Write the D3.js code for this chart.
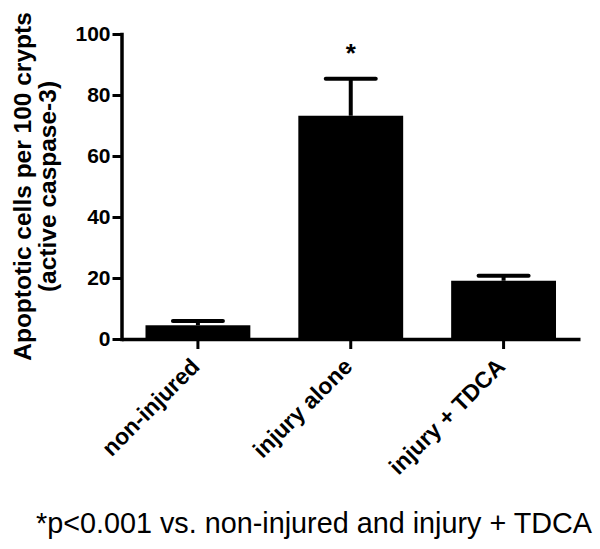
<!DOCTYPE html>
<html><head><meta charset="utf-8">
<script src="https://cdn.jsdelivr.net/npm/d3@7"></script>
<style>body{margin:0;background:#fff}svg{display:block}</style>
</head><body><svg id="c" width="600" height="549"></svg>
<script>
const categories = ["non-injured", "injury alone", "injury + TDCA"];
const means = [4.5, 73.2, 19.1];
const errors = [1.4, 12.1, 1.6];
const yTicks = [0, 20, 40, 60, 80, 100];
const significance = ["", "*", ""];
const yTitle = ["Apoptotic cells per 100 crypts", "(active caspase-3)"];
const footnote = "*p<0.001 vs. non-injured and injury + TDCA";

const data = categories.map((c, i) => ({c, m: means[i], e: errors[i], s: significance[i]}));
const svg = d3.select("#c");
const FONT = "'Liberation Sans', Arial, sans-serif";
const L = 121.5, R = 580, T = 34, B = 339;

const x = d3.scaleBand().domain(categories).range([L, R]).paddingInner(0.314).paddingOuter(0.157);
const y = d3.scaleLinear().domain([0, 100]).range([B, T]);

// bars
svg.append("g").selectAll("rect").data(data).join("rect")
  .attr("x", d => x(d.c)).attr("width", x.bandwidth())
  .attr("y", d => y(d.m)).attr("height", d => y(0) - y(d.m))
  .attr("fill", "#000");

// error bars (upper only)
const eb = svg.append("g").attr("stroke", "#000").attr("stroke-width", 4);
eb.selectAll("line.v").data(data).join("line").attr("class", "v")
  .attr("x1", d => x(d.c) + x.bandwidth() / 2).attr("x2", d => x(d.c) + x.bandwidth() / 2)
  .attr("y1", d => y(d.m)).attr("y2", d => y(d.m + d.e));
eb.selectAll("line.h").data(data).join("line").attr("class", "h")
  .attr("stroke-linecap", "round")
  .attr("x1", d => x(d.c) + x.bandwidth() / 2 - 25).attr("x2", d => x(d.c) + x.bandwidth() / 2 + 25)
  .attr("y1", d => y(d.m + d.e)).attr("y2", d => y(d.m + d.e));

// significance marks
svg.append("g").selectAll("text").data(data).join("text")
  .attr("x", d => x(d.c) + x.bandwidth() / 2).attr("y", 62)
  .attr("text-anchor", "middle").attr("font-family", FONT).attr("font-weight", "bold")
  .attr("font-size", 26).text(d => d.s);

// y axis
const ya = svg.append("g").attr("transform", `translate(${L},0)`)
  .call(d3.axisLeft(y).tickValues(yTicks).tickSize(9).tickSizeOuter(0).tickPadding(2));
ya.select(".domain").attr("stroke-width", 3.5).attr("stroke-linecap", "square");
ya.selectAll(".tick line").attr("stroke-width", 3);
ya.selectAll(".tick text").attr("font-family", FONT).attr("font-weight", "bold")
  .attr("font-size", 21).attr("fill", "#000");

// x axis
const xa = svg.append("g").attr("transform", `translate(0,${B})`)
  .call(d3.axisBottom(x).tickSize(10).tickSizeOuter(0));
xa.select(".domain").attr("stroke-width", 3.5);
xa.selectAll(".tick line").attr("stroke-width", 3);
xa.selectAll(".tick text")
  .attr("font-family", FONT).attr("font-weight", "bold").attr("font-size", 23).attr("fill", "#000")
  .attr("text-anchor", "end").attr("dy", null).attr("y", 0)
  .attr("transform", "translate(3,29) rotate(-45)");

// y title
const yt = svg.append("text").attr("transform", `translate(0,${(T + B) / 2}) rotate(-90)`)
  .attr("text-anchor", "middle").attr("font-family", FONT).attr("font-weight", "bold").attr("font-size", 24.5);
yt.selectAll("tspan").data(yTitle).join("tspan")
  .attr("x", 0).attr("y", (d, i) => 31 + i * 25).text(d => d);

// footnote
svg.append("text").attr("x", 36).attr("y", 533)
  .attr("font-family", FONT).attr("font-size", 29)
  .attr("textLength", 556).attr("lengthAdjust", "spacingAndGlyphs")
  .text(footnote);
</script></body></html>
